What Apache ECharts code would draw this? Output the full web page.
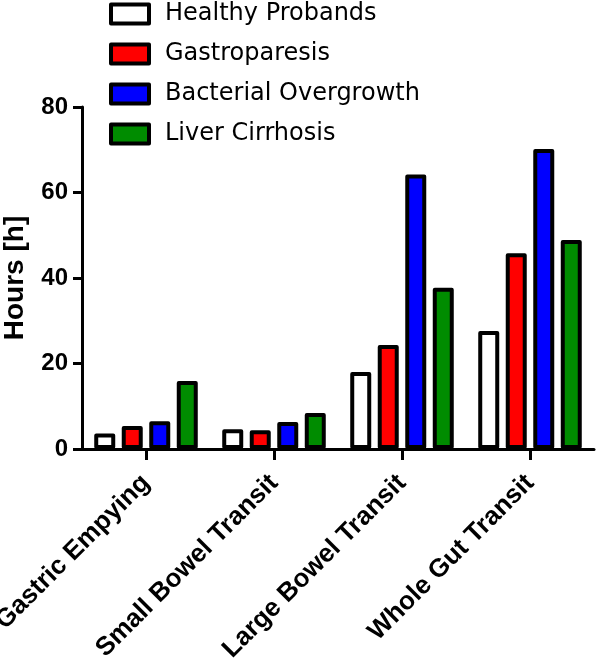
<!DOCTYPE html>
<html>
<head>
<meta charset="utf-8">
<script src="https://cdn.jsdelivr.net/npm/echarts@6/dist/echarts.min.js"></script>
<style>html,body{margin:0;padding:0;background:#fff}#c{width:598px;height:659px}</style>
</head>
<body>
<div id="c"></div>
<script>
const categories = ["Gastric Empying", "Small Bowel Transit", "Large Bowel Transit", "Whole Gut Transit"];
const seriesNames = ["Healthy Probands", "Gastroparesis", "Bacterial Overgrowth", "Liver Cirrhosis"];
const healthy = [3.6, 4.6, 18.0, 27.6];
const gastroparesis = [5.4, 4.4, 24.3, 45.8];
const bacterial = [6.5, 6.3, 64.2, 70.2];
const cirrhosis = [15.9, 8.4, 37.7, 48.9];
const colors = ["#ffffff", "#ff0000", "#0000ff", "#008c00"];
const yTicks = [0, 20, 40, 60, 80];

const values = [healthy, gastroparesis, bacterial, cirrhosis];
const chart = echarts.init(document.getElementById('c'), null, {renderer: 'canvas'});
const boldFont = "'Liberation Sans', Arial, sans-serif";
const legendFont = "'DejaVu Sans', sans-serif";
chart.setOption({
  animation: false,
  backgroundColor: '#ffffff',
  legend: {
    orient: 'vertical',
    left: 104,
    top: -3,
    icon: 'rect',
    itemWidth: 38,
    itemHeight: 19,
    itemGap: 16,
    data: seriesNames,
    textStyle: {fontFamily: legendFont, fontSize: 24, color: '#000', lineHeight: 23, padding: [0, 0, 0, 11]},
    itemStyle: {borderColor: '#000', borderWidth: 4}
  },
  grid: {left: 82, right: 4, top: 107, bottom: 210, containLabel: false, outerBoundsMode: 'none'},
  xAxis: {
    type: 'category',
    data: categories,
    axisLine: {show: true, lineStyle: {color: '#000', width: 3}},
    axisTick: {show: true, interval: 0, alignWithLabel: true, length: 11, lineStyle: {color: '#000', width: 3}},
    axisLabel: {rotate: 45, margin: 30, fontFamily: boldFont, fontWeight: 'bold', fontSize: 26, color: '#000', interval: 0}
  },
  yAxis: {
    type: 'value',
    min: yTicks[0],
    max: yTicks[yTicks.length - 1],
    interval: 20,
    name: 'Hours [h]',
    nameLocation: 'middle',
    nameGap: 53,
    nameMoveOverlap: false,
    nameTextStyle: {fontFamily: boldFont, fontWeight: 'bold', fontSize: 28, color: '#000'},
    axisLine: {show: true, lineStyle: {color: '#000', width: 3}},
    axisTick: {show: true, length: 9, lineStyle: {color: '#000', width: 3}},
    axisLabel: {margin: 14, fontFamily: boldFont, fontWeight: 'bold', fontSize: 24, color: '#000'},
    splitLine: {show: false}
  },
  series: seriesNames.map((n, i) => ({
    name: n,
    type: 'bar',
    data: values[i],
    barWidth: 21,
    barGap: '31%',
    itemStyle: {color: colors[i], borderColor: '#000', borderWidth: 4, borderJoin: 'round'}
  }))
});
</script>
</body>
</html>
